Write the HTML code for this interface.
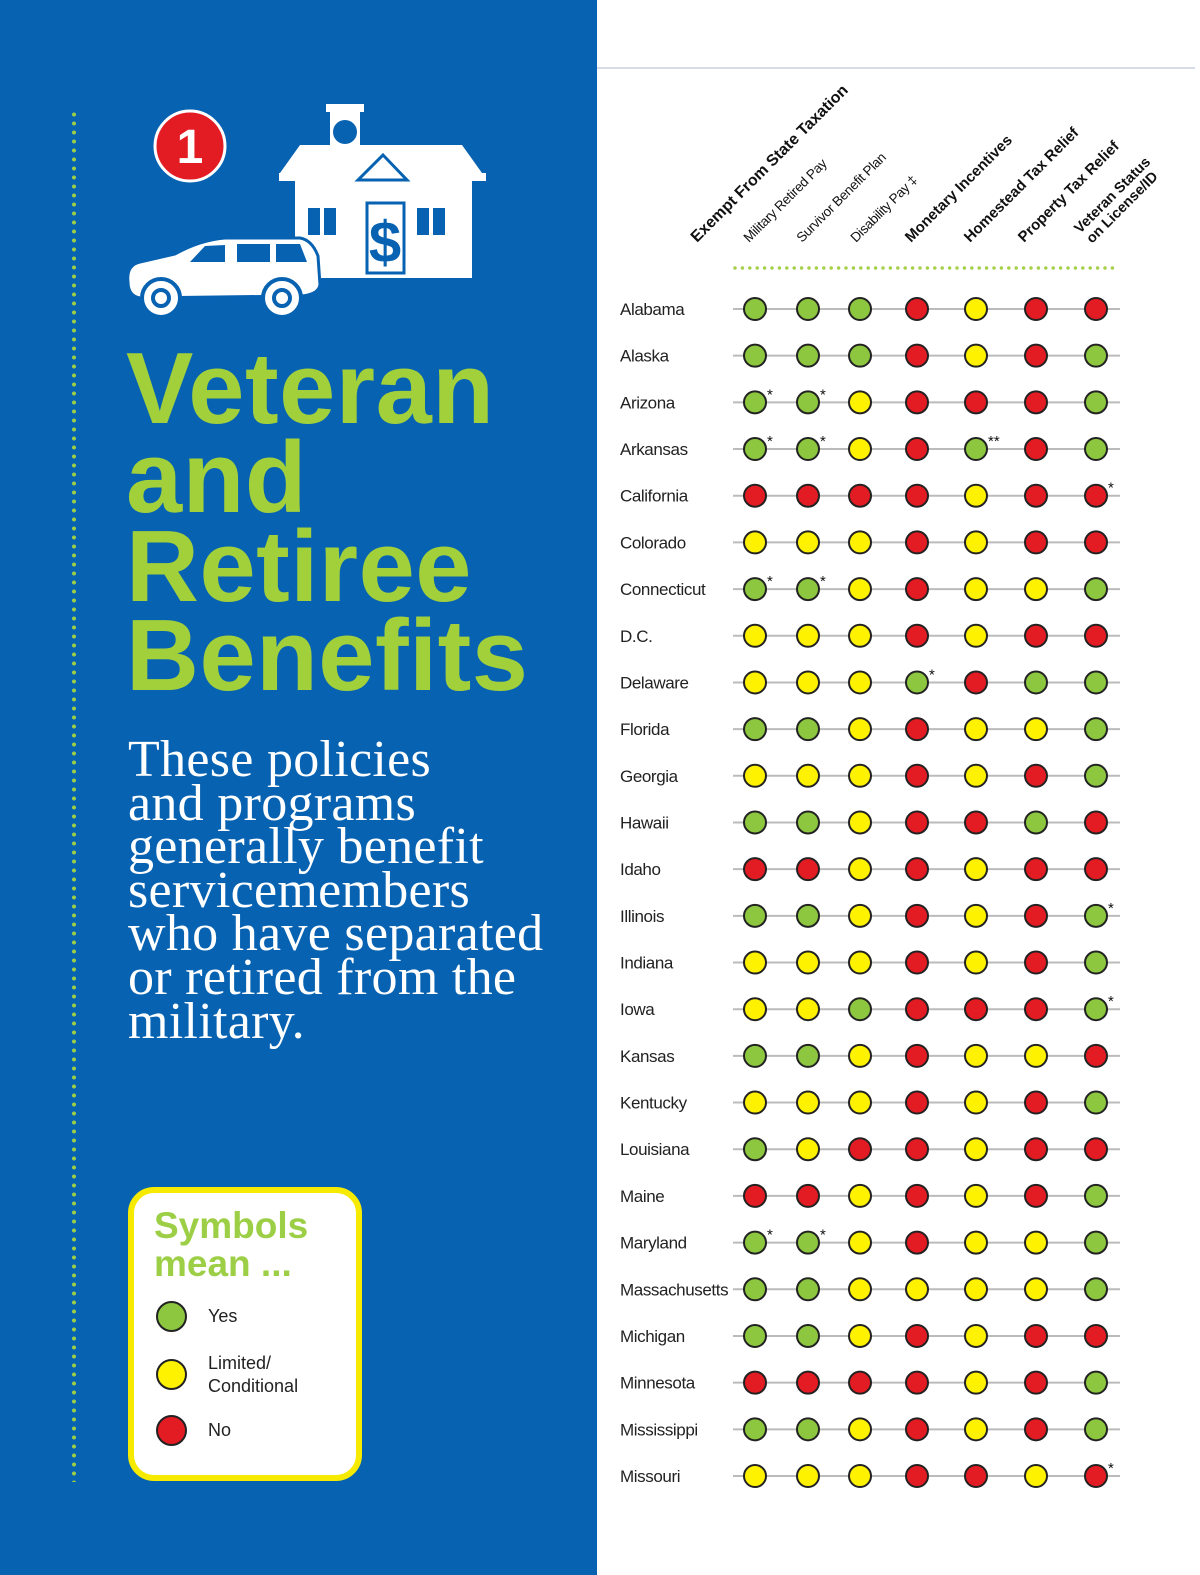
<!DOCTYPE html>
<html><head><meta charset="utf-8">
<style>
body{margin:0;width:1200px;height:1575px;position:relative;background:#fff;font-family:"Liberation Sans",sans-serif;overflow:hidden}
#left{position:absolute;left:0;top:0;width:597px;height:1575px;background:#0762b2}
.dots{position:absolute;left:72px;top:110px;width:4px;height:1372px;background:radial-gradient(circle,#9ccf45 1.8px,transparent 2.2px) 0 0/4px 9px repeat-y}
.title{position:absolute;left:126px;top:345px;font-weight:bold;font-size:101px;line-height:89px;color:#a2d03b;letter-spacing:0.5px}
.sub{position:absolute;left:128px;top:738px;font-family:"Liberation Serif",serif;font-size:52px;line-height:43.6px;color:#fff;letter-spacing:0.3px}
.legend{position:absolute;left:128px;top:1187px;width:222px;height:282px;border:6px solid #f5ea00;border-radius:26px;background:#fff}
.legend h3{margin:0;position:absolute;left:20px;top:14px;font-size:37px;line-height:38px;color:#9ccf45;font-weight:bold}
.li{position:absolute;left:22px;font-size:18px;color:#222;line-height:23px}
.li span.c{position:absolute;left:0;width:31px;height:31px;border-radius:50%;border:2.5px solid #222;box-sizing:border-box}
.li span.t{position:absolute;left:52px;white-space:nowrap}
</style></head><body>
<div id="left">
  <div class="dots"></div>
  <svg style="position:absolute;left:0;top:0" width="597" height="340">
    <circle cx="190" cy="146" r="35" fill="#e31b23" stroke="#fff" stroke-width="3"/>
    <text x="190" y="163" text-anchor="middle" fill="#fff" font-size="48" font-weight="bold" font-family="Liberation Sans">1</text>
    <g fill="#fff">
      <rect x="326" y="104" width="38" height="8"/><rect x="330" y="112" width="30" height="35"/>
      <polygon points="300,145 462,145 482,173 280,173"/>
      <rect x="279" y="173" width="207" height="8"/>
      <rect x="295" y="181" width="177" height="97"/>
    </g>
    <polygon points="383,155 407,180 358,180" fill="none" stroke="#0762b2" stroke-width="3"/>
    <circle cx="345" cy="132" r="12" fill="#0762b2"/>
    <g fill="#0762b2"><rect x="308" y="208" width="12" height="27"/><rect x="324" y="208" width="12" height="27"/><rect x="417" y="208" width="12" height="27"/><rect x="433" y="208" width="12" height="27"/></g>
    <rect x="367" y="203" width="37" height="70" fill="none" stroke="#0762b2" stroke-width="3"/>
    <text x="385" y="262" text-anchor="middle" fill="#0762b2" font-size="58" font-weight="bold" font-family="Liberation Sans">$</text>
    <g>
      <path d="M128,282 Q126,265 140,262 L175,254 Q200,240 225,238 L300,238 Q312,240 318,256 L320,285 Q318,295 300,296 L140,298 Q128,296 128,282Z" fill="#fff" stroke="#0762b2" stroke-width="3"/>
      <g fill="#0762b2"><path d="M190,262 L205,246 L225,245 L225,262Z"/><rect x="237" y="244" width="33" height="18"/><path d="M276,244 L300,244 L307,262 L276,262Z"/></g>
      <circle cx="161" cy="298" r="19" fill="#fff" stroke="#0762b2" stroke-width="4"/><circle cx="161" cy="298" r="8" fill="none" stroke="#0762b2" stroke-width="4"/>
      <circle cx="282" cy="298" r="19" fill="#fff" stroke="#0762b2" stroke-width="4"/><circle cx="282" cy="298" r="8" fill="none" stroke="#0762b2" stroke-width="4"/>
    </g>
  </svg>
  <div class="title">Veteran<br>and<br>Retiree<br>Benefits</div>
  <div class="sub">These policies<br>and programs<br>generally benefit<br>servicemembers<br>who have separated<br>or retired from the<br>military.</div>
  <div class="legend">
    <h3>Symbols<br>mean ...</h3>
    <div class="li" style="top:108px"><span class="c" style="background:#8dc63f;top:0"></span><span class="t" style="top:4px">Yes</span></div>
    <div class="li" style="top:166px"><span class="c" style="background:#fff200;top:0"></span><span class="t" style="top:-7px">Limited/<br>Conditional</span></div>
    <div class="li" style="top:222px"><span class="c" style="background:#e31b23;top:0"></span><span class="t" style="top:4px">No</span></div>
  </div>
</div>
<svg id="chart" style="position:absolute;left:0;top:0" width="1200" height="1575"></svg>
<script>
const states=["Alabama","Alaska","Arizona","Arkansas","California","Colorado","Connecticut","D.C.","Delaware","Florida","Georgia","Hawaii","Idaho","Illinois","Indiana","Iowa","Kansas","Kentucky","Louisiana","Maine","Maryland","Massachusetts","Michigan","Minnesota","Mississippi","Missouri"];
const columns=["Military Retired Pay","Survivor Benefit Plan","Disability Pay","Monetary Incentives","Homestead Tax Relief","Property Tax Relief","Veteran Status on License/ID"];
const status=["GGGRYRR","GGGRYRG","GGYRRRG","GGYRGRG","RRRRYRR","YYYRYRR","GGYRYYG","YYYRYRR","YYYGRGG","GGYRYYG","YYYRYRG","GGYRRGR","RRYRYRR","GGYRYRG","YYYRYRG","YYGRRRG","GGYRYYR","YYYRYRG","GYRRYRR","RRYRYRG","GGYRYYG","GGYYYYG","GGYRYRR","RRRRYRG","GGYRYRG","YYYRRYR"];
const notes=["","","*|*|||||","*|*|||**||","||||||*","","*|*|||||","","|||*|||","","","","","||||||*","","||||||*","","","","","*|*|||||","","","","","||||||*"];
const colors={G:"#8dc63f",Y:"#fff200",R:"#e31b23"};
const ns="http://www.w3.org/2000/svg",svg=document.getElementById('chart');
const colX=[755,808,860,917,976,1036,1096];
const x=i=>colX[i], y=r=>309+r*46.68;
function mk(t,a,p){const e=document.createElementNS(ns,t);for(const k in a)e.setAttribute(k,a[k]);(p||svg).appendChild(e);return e;}
mk('line',{x1:597,y1:68,x2:1195,y2:68,stroke:'#d6dce8','stroke-width':2});
const dl=mk('line',{x1:735,y1:268,x2:1118,y2:268,stroke:'#a6cf4a','stroke-width':3.5,'stroke-dasharray':'0 7.4','stroke-linecap':'round'});


const g0=mk('text',{transform:'translate(697,243) rotate(-45)','font-size':16,'font-weight':'bold',fill:'#111','font-family':'Liberation Sans'});
g0.textContent="Exempt From State Taxation";


const hx=[749,802,856,911,970,1024,1080];
const hb=[0,0,0,1,1,1,1];
columns.forEach((c,i)=>{
  if(i===6){
    const t=mk('text',{transform:`translate(${hx[i]},234) rotate(-45)`,'font-size':14.5,'font-weight':'bold',fill:'#111','font-family':'Liberation Sans'});
    t.textContent="Veteran Status";
    
    
    const t2=mk('text',{transform:`translate(${hx[i]+12},244) rotate(-45)`,'font-size':14.5,'font-weight':'bold',fill:'#111','font-family':'Liberation Sans'});
    t2.textContent="on License/ID";
    
    
    return;
  }
  const t=mk('text',{transform:`translate(${hx[i]},243) rotate(-45)`,'font-size':hb[i]?15:13.5,'font-weight':hb[i]?'bold':'normal',fill:'#111','font-family':'Liberation Sans','letter-spacing':hb[i]?0:-0.3});
  t.textContent=c+(i===2?" \u2021":"");
  
  
});
states.forEach((s,r)=>{
  const cy=y(r);
  const lb=mk('text',{x:620,y:cy+6,'font-size':17,fill:'#222','font-family':'Liberation Sans','letter-spacing':-0.4});
  lb.textContent=s;
  
  
  const ln=mk('line',{x1:733,y1:cy,x2:1120,y2:cy,stroke:'#bbb','stroke-width':2});
  
  
  const n=notes[r].split('|');
  for(let i=0;i<7;i++){
    const c=mk('circle',{cx:x(i),cy:cy,r:11,fill:colors[status[r][i]],stroke:'#222','stroke-width':2});
    
    
    if(n[i]){
      const a=mk('text',{x:x(i)+12,y:cy-3,'font-size':15,fill:'#111','font-family':'Liberation Sans'});
      a.textContent=n[i];
      
      
    }
  }
});
</script>
</body></html>
